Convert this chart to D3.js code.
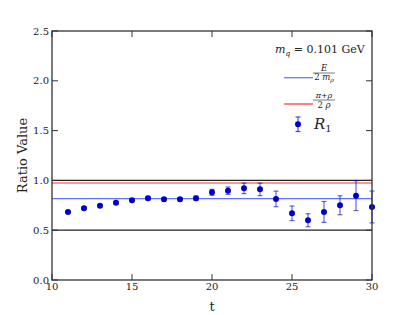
<!DOCTYPE html>
<html>
<head>
<meta charset="utf-8">
<script src="https://cdn.jsdelivr.net/npm/d3@7"></script>
<style>
  body { margin: 0; background: #fff; }
  svg text { font-family: "DejaVu Serif", serif; }
</style>
</head>
<body>
<svg id="chart" width="415" height="315"></svg>
<script>
// data
var tValues = [11, 12, 13, 14, 15, 16, 17, 18, 19, 20, 21, 22, 23, 24, 25, 26, 27, 28, 29, 30];
var ratioValues = [0.683, 0.72, 0.746, 0.776, 0.80, 0.82, 0.81, 0.81, 0.82, 0.88, 0.897, 0.92, 0.91, 0.814, 0.67, 0.60, 0.683, 0.75, 0.847, 0.733];
var ratioErrors = [0.012, 0.012, 0.012, 0.014, 0.014, 0.015, 0.015, 0.016, 0.022, 0.03, 0.037, 0.053, 0.063, 0.078, 0.073, 0.065, 0.105, 0.095, 0.15, 0.16];
var energyRatio = 0.817;   // E / 2 m_rho
var pionRhoRatio = 0.974;  // (pi + rho) / 2 rho
var refLines = [1.0, 0.5];
var xTicks = [10, 15, 20, 25, 30];
var yTicks = [0.0, 0.5, 1.0, 1.5, 2.0, 2.5];

var svg = d3.select("#chart");
var margin = { left: 52, right: 43, top: 31, bottom: 35 };
var W = 415, H = 315;

var x = d3.scaleLinear().domain([10, 30]).range([margin.left, W - margin.right]);
var y = d3.scaleLinear().domain([0, 2.5]).range([H - margin.bottom, margin.top]);

var blue = "#0000cc";
var txt = "#222";

// horizontal reference lines
svg.selectAll(".ref")
   .data(refLines)
   .enter()
   .append("line")
   .attr("x1", x(10)).attr("x2", x(30))
   .attr("y1", function(d) { return y(d); })
   .attr("y2", function(d) { return y(d); })
   .style("stroke", "#222")
   .style("stroke-width", 1.2);

svg.append("line")
   .attr("x1", x(10)).attr("x2", x(30))
   .attr("y1", y(pionRhoRatio)).attr("y2", y(pionRhoRatio))
   .style("stroke", "#ff3030").style("stroke-width", 1.2);

svg.append("line")
   .attr("x1", x(10)).attr("x2", x(30))
   .attr("y1", y(energyRatio)).attr("y2", y(energyRatio))
   .style("stroke", "#6070ff").style("stroke-width", 1.2);

// error bars
var pts = tValues.map(function(t, i) { return { t: t, v: ratioValues[i], e: ratioErrors[i] }; });

var eb = svg.selectAll(".eb")
   .data(pts)
   .enter()
   .append("g")
   .attr("class", "eb")
   .style("stroke", blue)
   .style("stroke-opacity", 0.6)
   .style("stroke-width", 1.2);

eb.append("line")
  .attr("x1", function(d) { return x(d.t); })
  .attr("x2", function(d) { return x(d.t); })
  .attr("y1", function(d) { return y(d.v - d.e); })
  .attr("y2", function(d) { return y(d.v + d.e); });

[-1, 1].forEach(function(s) {
  eb.append("line")
    .attr("x1", function(d) { return x(d.t) - 2.5; })
    .attr("x2", function(d) { return x(d.t) + 2.5; })
    .attr("y1", function(d) { return y(d.v + s * d.e); })
    .attr("y2", function(d) { return y(d.v + s * d.e); });
});

svg.selectAll(".pt")
   .data(pts)
   .enter()
   .append("circle")
   .attr("cx", function(d) { return x(d.t); })
   .attr("cy", function(d) { return y(d.v); })
   .attr("r", 3)
   .style("fill", blue);

// frame and inward ticks
var x0 = x(10), x1 = x(30), y0 = y(0), y1 = y(2.5);
svg.append("rect")
   .attr("x", x0).attr("y", y1)
   .attr("width", x1 - x0).attr("height", y0 - y1)
   .style("fill", "none").style("stroke", "#333").style("stroke-width", 1.3);

xTicks.forEach(function(t) {
  svg.append("line").attr("x1", x(t)).attr("x2", x(t)).attr("y1", y0).attr("y2", y0 - 6).style("stroke", "#333");
  svg.append("line").attr("x1", x(t)).attr("x2", x(t)).attr("y1", y1).attr("y2", y1 + 6).style("stroke", "#333");
  svg.append("text").attr("x", x(t)).attr("y", y0 + 10).attr("fill", txt)
     .attr("text-anchor", "middle").style("font-size", "10px").text(t);
});

yTicks.forEach(function(v) {
  svg.append("line").attr("x1", x0).attr("x2", x0 + 6).attr("y1", y(v)).attr("y2", y(v)).style("stroke", "#333");
  svg.append("line").attr("x1", x1).attr("x2", x1 - 6).attr("y1", y(v)).attr("y2", y(v)).style("stroke", "#333");
  svg.append("text").attr("x", x0 - 3).attr("y", y(v) + 3.5).attr("fill", txt)
     .attr("text-anchor", "end").style("font-size", "10px").text(v.toFixed(1));
});

// axis labels
svg.append("text")
   .attr("transform", "translate(27," + ((y0 + y1) / 2) + ") rotate(-90)").attr("fill", txt)
   .attr("text-anchor", "middle").style("font-size", "13px").text("Ratio Value");

svg.append("text")
   .attr("x", (x0 + x1) / 2).attr("y", 311).attr("fill", txt)
   .attr("text-anchor", "middle").style("font-size", "13px").text("t");

// legend
var lg = svg.append("g").attr("fill", txt);
var title = lg.append("text").attr("x", 275).attr("y", 53).style("font-size", "11px");
title.append("tspan").style("font-style", "italic").text("m");
title.append("tspan").attr("dy", 2.5).style("font-size", "7.5px").style("font-style", "italic").text("q");
title.append("tspan").attr("dy", -2.5).text(" = 0.101 GeV");

lg.append("line").attr("x1", 284).attr("x2", 313).attr("y1", 77.7).attr("y2", 77.7)
  .style("stroke", "#6070ff").style("stroke-width", 1.2);
lg.append("text").attr("x", 324).attr("y", 71).attr("text-anchor", "middle")
  .style("font-size", "8.5px").style("font-style", "italic").text("E");
lg.append("line").attr("x1", 313).attr("x2", 335).attr("y1", 73).attr("y2", 73).style("stroke", "#222").style("stroke-width", 0.6);
var den1 = lg.append("text").attr("x", 324).attr("y", 80).attr("text-anchor", "middle").style("font-size", "8.5px");
den1.append("tspan").text("2");
den1.append("tspan").style("font-style", "italic").text(" m");
den1.append("tspan").attr("dy", 1.5).style("font-size", "6px").style("font-style", "italic").text("ρ");

lg.append("line").attr("x1", 284).attr("x2", 313).attr("y1", 104).attr("y2", 104)
  .style("stroke", "#ff3030").style("stroke-width", 1.2);
lg.append("text").attr("x", 324).attr("y", 98).attr("text-anchor", "middle")
  .style("font-size", "8px").style("font-style", "italic").text("π+ρ");
lg.append("line").attr("x1", 313).attr("x2", 335).attr("y1", 100).attr("y2", 100).style("stroke", "#222").style("stroke-width", 0.6);
var den2 = lg.append("text").attr("x", 324).attr("y", 108).attr("text-anchor", "middle").style("font-size", "8.5px");
den2.append("tspan").text("2");
den2.append("tspan").style("font-style", "italic").text(" ρ");

var mk = lg.append("g").style("stroke", blue).style("stroke-opacity", 0.7).style("stroke-width", 1.2);
mk.append("line").attr("x1", 298).attr("x2", 298).attr("y1", 117).attr("y2", 131.5);
mk.append("line").attr("x1", 295.5).attr("x2", 300.5).attr("y1", 117).attr("y2", 117);
mk.append("line").attr("x1", 295.5).attr("x2", 300.5).attr("y1", 131.5).attr("y2", 131.5);
lg.append("circle").attr("cx", 298).attr("cy", 124.3).attr("r", 3).style("fill", blue);
var r1 = lg.append("text").attr("x", 314).attr("y", 129).style("font-size", "15px");
r1.append("tspan").style("font-style", "italic").text("R");
r1.append("tspan").attr("dy", 3).style("font-size", "10px").text("1");
</script>
</body>
</html>
